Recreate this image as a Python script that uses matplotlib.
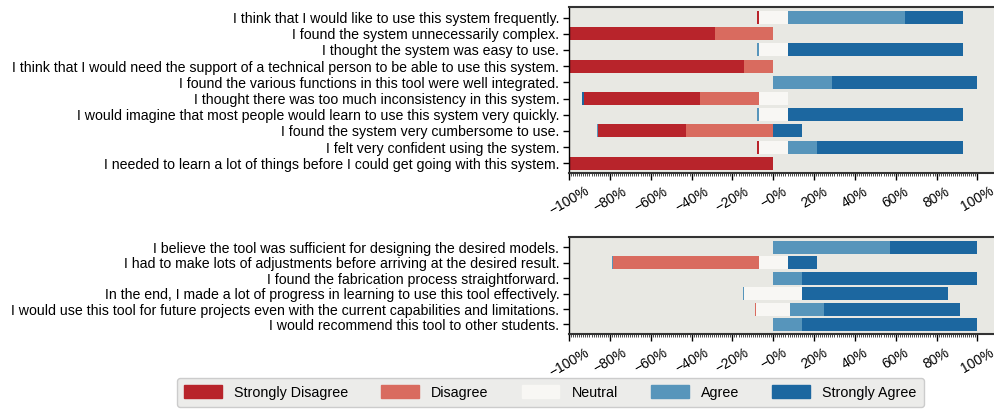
import numpy as np
import matplotlib
matplotlib.use("Agg")
import matplotlib.pyplot as plt
import matplotlib.ticker as mticker
from matplotlib.patches import Patch

plt.rcParams["font.family"] = ["Liberation Sans", "DejaVu Sans"]

# ==============================
#  DATA (answer counts, 7 participants)
# ==============================
CATEGORIES = ["Strongly Disagree", "Disagree", "Neutral", "Agree", "Strongly Agree"]
COLORS = ["#b8242b", "#d96b5f", "#f8f7f4", "#5795bb", "#1c67a0"]

SUS_QUESTIONS = [
    "I think that I would like to use this system frequently.",
    "I found the system unnecessarily complex.",
    "I thought the system was easy to use.",
    "I think that I would need the support of a technical person to be able to use this system.",
    "I found the various functions in this tool were well integrated.",
    "I thought there was too much inconsistency in this system.",
    "I would imagine that most people would learn to use this system very quickly.",
    "I found the system very cumbersome to use.",
    "I felt very confident using the system.",
    "I needed to learn a lot of things before I could get going with this system.",
]
SUS_SD = [0, 5, 0, 6, 0, 4, 0, 3, 0, 7]
SUS_D  = [0, 2, 0, 1, 0, 2, 0, 3, 0, 0]
SUS_N  = [1, 0, 1, 0, 0, 1, 1, 0, 1, 0]
SUS_A  = [4, 0, 0, 0, 2, 0, 0, 0, 1, 0]
SUS_SA = [2, 0, 6, 0, 5, 0, 6, 1, 5, 0]
# colour index of the thin edge mark left of some bars
SUS_EDGE = [0, None, 3, None, None, 4, 3, 3, 0, None]

TOOL_QUESTIONS = [
    "I believe the tool was sufficient for designing the desired models.",
    "I had to make lots of adjustments before arriving at the desired result.",
    "I found the fabrication process straightforward.",
    "In the end, I made a lot of progress in learning to use this tool effectively.",
    "I would use this tool for future projects even with the current capabilities and limitations.",
    "I would recommend this tool to other students.",
]
TOOL_SD = [0, 0, 0, 0, 0, 0]
TOOL_D  = [0, 5, 0, 0, 0, 0]
TOOL_N  = [0, 1, 0, 2, 1, 0]
TOOL_A  = [4, 0, 1, 0, 1, 1]
TOOL_SA = [3, 1, 6, 5, 4, 6]
TOOL_EDGE = [None, 3, None, 3, 1, None]

XTICKS = [-100, -80, -60, -40, -20, 0, 20, 40, 60, 80, 100]
XLABELS = ["−100%", "−80%", "−60%", "−40%", "−20%", "−0%",
           "20%", "40%", "60%", "80%", "100%"]


def likert(ax, questions, counts, edges, bar_h):
    data = np.array(counts, dtype=float).T
    pct = data / data.sum(axis=1, keepdims=True) * 100
    y = np.arange(len(questions))
    left = -(pct[:, 0] + pct[:, 1] + pct[:, 2] / 2)
    start = left.copy()
    for k in range(5):
        ax.barh(y, pct[:, k], left=left, height=bar_h, color=COLORS[k], linewidth=0)
        left = left + pct[:, k]
    for i, e in enumerate(edges):
        if e is not None:
            ax.barh(y[i], 0.6, left=start[i] - 0.6, height=bar_h, color=COLORS[e], linewidth=0)

    ax.set_facecolor("#e8e8e3")
    ax.set_xlim(-100, 108.6)
    ax.set_yticks(y)
    ax.set_yticklabels(questions, fontsize=10.2)
    ax.set_xticks(XTICKS)
    ax.set_xticklabels(XLABELS, fontsize=10, rotation=30, ha="center")
    ax.xaxis.set_minor_locator(mticker.FixedLocator(np.arange(-100, 101, 1)))
    ax.tick_params(axis="x", which="major", length=5, width=1, pad=3)
    ax.tick_params(axis="x", which="minor", length=2.5, width=0.5)
    ax.tick_params(axis="y", length=4, width=1, pad=3)
    ax.spines["right"].set_visible(False)
    for s in ("top", "bottom"):
        ax.spines[s].set_linewidth(1.5)
        ax.spines[s].set_color("#333333")
    ax.spines["left"].set_linewidth(1.0)


fig = plt.figure(figsize=(9.95, 4.09), dpi=100)
ax1 = fig.add_axes([0.5719, 0.577, 0.4281, 0.4071])
ax2 = fig.add_axes([0.5719, 0.1826, 0.4281, 0.2372])

likert(ax1, SUS_QUESTIONS, [SUS_SD, SUS_D, SUS_N, SUS_A, SUS_SA], SUS_EDGE, 0.8)
ax1.set_ylim(9.6, -0.68)
likert(ax2, TOOL_QUESTIONS, [TOOL_SD, TOOL_D, TOOL_N, TOOL_A, TOOL_SA], TOOL_EDGE, 0.84)
ax2.set_ylim(5.64, -0.66)

fig.legend(handles=[Patch(color=c, label=l) for c, l in zip(COLORS, CATEGORIES)],
           loc="lower center", bbox_to_anchor=(0.553, -0.012), ncol=5,
           fontsize=10.3, facecolor="#ececea", edgecolor="#cccccc", framealpha=1,
           handlelength=2.65, handleheight=1.0, handletextpad=0.85,
           columnspacing=2.3, borderpad=0.5)

plt.savefig("out.png", dpi=100)
plt.close()
